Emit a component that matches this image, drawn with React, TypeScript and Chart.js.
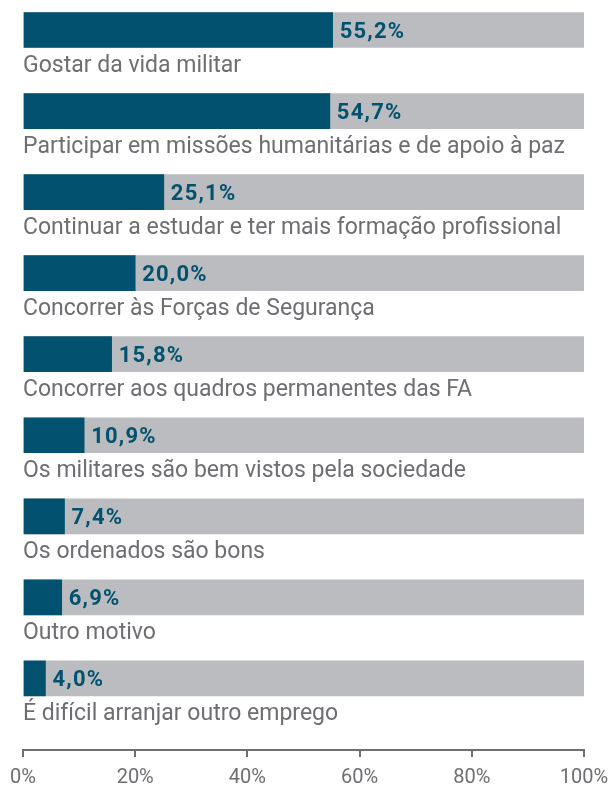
import React, { useEffect, useRef } from "react";
import { Chart, registerables } from "chart.js";

Chart.register(...registerables);

const categories = [
  "Gostar da vida militar",
  "Participar em missões humanitárias e de apoio à paz",
  "Continuar a estudar e ter mais formação profissional",
  "Concorrer às Forças de Segurança",
  "Concorrer aos quadros permanentes das FA",
  "Os militares são bem vistos pela sociedade",
  "Os ordenados são bons",
  "Outro motivo",
  "É difícil arranjar outro emprego",
];
const values = [55.2, 54.7, 25.1, 20.0, 15.8, 10.9, 7.4, 6.9, 4.0];
const track = [100, 100, 100, 100, 100, 100, 100, 100, 100];
const xTicks = [0, 20, 40, 60, 80, 100];

const TEAL = "#02526f";
const GRAY_BAR = "#bbbcbf";
const TEXT_GRAY = "#6d6e71";

const fmt = (v: number) => v.toFixed(1).replace(".", ",") + "%";

const labelPlugin = {
  id: "barLabels",
  afterDatasetsDraw(chart: any) {
    const ctx = chart.ctx;
    const meta = chart.getDatasetMeta(0);
    ctx.save();
    meta.data.forEach((bar: any, i: number) => {
      ctx.font = "bold 22px Roboto";
      ctx.fillStyle = TEAL;
      ctx.textAlign = "left";
      ctx.textBaseline = "alphabetic";
      if ("letterSpacing" in ctx) (ctx as any).letterSpacing = "1.2px";
      ctx.fillText(fmt(values[i]), bar.x + 7, bar.y + 8);
      if ("letterSpacing" in ctx) (ctx as any).letterSpacing = "0px";
      ctx.font = "23px Roboto";
      ctx.fillStyle = TEXT_GRAY;
      ctx.fillText(categories[i], chart.chartArea.left, bar.y + 41.5);
    });
    ctx.restore();
  },
};

export default function App() {
  const ref = useRef<HTMLCanvasElement>(null);

  useEffect(() => {
    if (!ref.current) return;
    const unit = 81.05;
    const yMin = -30 / unit;
    const yMax = yMin + 750 / unit;
    const chart = new Chart(ref.current, {
      type: "bar",
      data: {
        datasets: [
          {
            data: values.map((v, i) => ({ x: v, y: i })),
            backgroundColor: TEAL,
            barThickness: 35,
            grouped: false,
            borderWidth: 0,
          } as any,
          {
            data: track.map((v, i) => ({ x: v, y: i })),
            backgroundColor: GRAY_BAR,
            barThickness: 35,
            grouped: false,
            borderWidth: 0,
          } as any,
        ],
      },
      options: {
        indexAxis: "y",
        animation: false,
        responsive: false,
        layout: { padding: { left: 23, right: 29, top: 0, bottom: 0 } },
        plugins: {
          legend: { display: false },
          tooltip: { enabled: false },
        },
        scales: {
          y: {
            type: "linear",
            display: false,
            reverse: true,
            offset: false,
            min: yMin,
            max: yMax,
            grid: { offset: false },
          },
          x: {
            type: "linear",
            position: "bottom",
            min: 0,
            max: 100,
            afterFit: (s: any) => {
              s.height = 36;
              s.paddingLeft = 0;
              s.paddingRight = 0;
            },
            afterBuildTicks: (s: any) => {
              s.ticks = xTicks.map((v) => ({ value: v }));
            },
            border: { display: true, color: TEXT_GRAY, width: 2 },
            grid: {
              display: true,
              drawOnChartArea: false,
              drawTicks: true,
              tickLength: 7,
              color: TEXT_GRAY,
              lineWidth: 2,
            },
            ticks: {
              color: TEXT_GRAY,
              font: { family: "Roboto", size: 20 },
              padding: 9,
              maxRotation: 0,
              autoSkip: false,
              callback: (v: any) => v + "%",
            },
          },
        },
      },
      plugins: [labelPlugin],
    });
    return () => chart.destroy();
  }, []);

  return (
    <div style={{ position: "absolute", left: 0, top: 0, width: 613, height: 786, background: "#fff" }}>
      <canvas ref={ref} width={613} height={786} style={{ display: "block" }} />
    </div>
  );
}
